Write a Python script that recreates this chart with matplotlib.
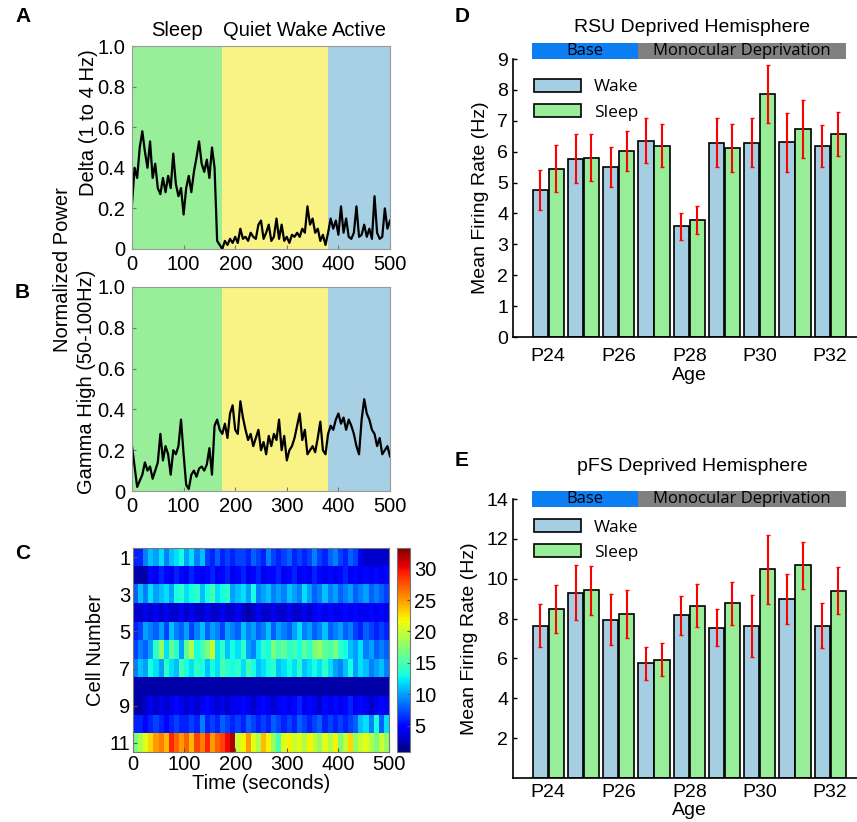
import matplotlib
matplotlib.use("Agg")
import matplotlib.pyplot as plt
import numpy as np

plt.rcParams['font.family'] = ['Liberation Sans', 'DejaVu Sans']

# ---- panel A/B: normalized power traces, sampled every 5 s ----
t = np.arange(0, 501, 5)
delta = [0.22, 0.40, 0.35, 0.50, 0.58, 0.48, 0.40, 0.53, 0.35, 0.42,
         0.30, 0.27, 0.35, 0.28, 0.36, 0.30, 0.47, 0.32, 0.26, 0.30,
         0.17, 0.30, 0.36, 0.28, 0.38, 0.45, 0.53, 0.42, 0.38, 0.44,
         0.35, 0.50, 0.40, 0.04, 0.02, 0.00, 0.04, 0.02, 0.05, 0.03,
         0.06, 0.03, 0.10, 0.05, 0.06, 0.04, 0.08, 0.06, 0.05, 0.12,
         0.14, 0.05, 0.08, 0.12, 0.04, 0.06, 0.15, 0.05, 0.12, 0.04,
         0.06, 0.03, 0.07, 0.06, 0.08, 0.06, 0.10, 0.08, 0.21, 0.12,
         0.15, 0.08, 0.10, 0.04, 0.07, 0.02, 0.08, 0.15, 0.10, 0.14,
         0.07, 0.21, 0.08, 0.15, 0.06, 0.05, 0.08, 0.21, 0.06, 0.07,
         0.12, 0.06, 0.10, 0.05, 0.26, 0.08, 0.05, 0.06, 0.20, 0.10,
         0.14]
gamma = [0.22, 0.12, 0.02, 0.05, 0.08, 0.14, 0.10, 0.12, 0.06, 0.10,
         0.14, 0.28, 0.15, 0.22, 0.18, 0.08, 0.20, 0.18, 0.22, 0.35,
         0.18, 0.03, 0.01, 0.08, 0.10, 0.07, 0.11, 0.12, 0.10, 0.13,
         0.21, 0.08, 0.32, 0.35, 0.30, 0.28, 0.33, 0.26, 0.38, 0.42,
         0.30, 0.28, 0.44, 0.36, 0.30, 0.25, 0.28, 0.22, 0.26, 0.30,
         0.20, 0.24, 0.18, 0.27, 0.22, 0.28, 0.25, 0.35, 0.20, 0.27,
         0.15, 0.20, 0.22, 0.26, 0.32, 0.38, 0.25, 0.30, 0.18, 0.20,
         0.22, 0.19, 0.26, 0.34, 0.20, 0.18, 0.28, 0.32, 0.30, 0.35,
         0.38, 0.33, 0.36, 0.30, 0.35, 0.32, 0.28, 0.22, 0.18, 0.35,
         0.45, 0.38, 0.35, 0.30, 0.28, 0.22, 0.26, 0.18, 0.20, 0.22,
         0.17]

state_names = ['Sleep', 'Quiet Wake', 'Active']
state_edges = [0, 175, 380, 500]
state_colors = ['#98ee99', '#f8f384', '#a8d0e4']

# ---- panel C: firing rate per cell, 10 s bins ----
cell_rates = [
    [6, 6, 9, 11, 10, 12, 9, 11, 12, 13, 10, 12, 9, 11, 7, 6, 8, 6, 7, 6, 7, 7, 6, 8, 7,
     6, 9, 7, 6, 7, 8, 6, 7, 6, 7, 9, 7, 6, 8, 9, 7, 6, 8, 7, 4, 3, 3, 3, 3, 3],
    [2, 2, 2, 5, 4, 6, 5, 4, 6, 5, 4, 6, 5, 4, 5, 6, 4, 5, 6, 4, 5, 6, 4, 5, 6,
     4, 5, 5, 6, 4, 5, 6, 4, 5, 4, 6, 5, 4, 5, 4, 5, 6, 4, 5, 4, 5, 4, 5, 4, 5],
    [8, 11, 9, 12, 10, 11, 12, 10, 13, 14, 12, 13, 14, 11, 13, 15, 12, 13, 14, 10, 11, 12, 10, 13, 9,
     10, 11, 9, 10, 9, 11, 10, 9, 12, 10, 8, 9, 11, 9, 10, 8, 9, 10, 8, 9, 10, 8, 9, 8, 7],
    [3, 3, 4, 3, 4, 3, 4, 3, 3, 4, 3, 4, 3, 3, 4, 3, 3, 4, 3, 3, 4, 3, 2, 3, 4,
     3, 3, 4, 3, 3, 4, 3, 3, 4, 3, 4, 5, 4, 5, 4, 4, 5, 4, 5, 4, 4, 5, 4, 5, 4],
    [6, 7, 10, 9, 8, 10, 7, 11, 9, 8, 10, 7, 9, 11, 8, 10, 9, 7, 10, 9, 8, 11, 9, 10, 8,
     9, 11, 8, 10, 9, 8, 10, 12, 9, 10, 8, 9, 11, 8, 9, 10, 8, 9, 7, 6, 8, 7, 6, 7, 6],
    [7, 9, 8, 10, 14, 18, 12, 16, 14, 10, 16, 19, 13, 15, 17, 20, 12, 14, 11, 13, 12, 14, 10, 9, 12,
     14, 13, 17, 15, 16, 14, 15, 13, 16, 14, 17, 18, 16, 15, 17, 14, 13, 11, 10, 12, 9, 10, 8, 9, 8],
    [9, 11, 10, 13, 12, 10, 14, 12, 11, 15, 13, 12, 14, 13, 11, 13, 12, 15, 14, 13, 14, 12, 15, 13, 11,
     12, 13, 14, 11, 12, 13, 12, 14, 11, 12, 13, 12, 14, 12, 10, 9, 11, 13, 10, 12, 11, 9, 10, 11, 9],
    [2, 2, 2, 2, 2, 2, 2, 2, 2, 2, 2, 2, 2, 2, 2, 2, 2, 2, 2, 2, 2, 2, 2, 2, 2,
     2, 2, 2, 2, 2, 2, 2, 2, 2, 2, 2, 2, 2, 2, 2, 2, 2, 2, 2, 2, 2, 2, 2, 2, 2],
    [2, 2, 3, 4, 3, 4, 3, 4, 5, 4, 3, 4, 3, 4, 5, 4, 3, 4, 3, 4, 4, 5, 4, 3, 4,
     5, 4, 3, 4, 5, 4, 5, 6, 4, 5, 4, 3, 5, 4, 5, 4, 5, 6, 4, 5, 4, 3, 4, 5, 4],
    [6, 6, 5, 6, 7, 6, 5, 6, 7, 6, 6, 7, 6, 9, 6, 7, 6, 8, 7, 6, 7, 6, 8, 7, 6,
     7, 6, 8, 7, 6, 7, 6, 8, 7, 6, 7, 8, 6, 7, 6, 7, 6, 7, 8, 11, 12, 9, 13, 8, 12],
    [17, 19, 21, 23, 25, 26, 24, 29, 27, 25, 27, 24, 28, 26, 29, 25, 27, 28, 30, 32, 20, 22, 25, 21, 19,
     24, 22, 18, 15, 21, 22, 20, 21, 19, 22, 20, 18, 21, 19, 22, 17, 20, 23, 18, 20, 21, 19, 17, 20, 18],
]

# ---- panels D/E: mean firing rate by age ----
ages = ['P24', 'P25', 'P26', 'P27', 'P28', 'P29', 'P30', 'P31', 'P32']
rsu_wake = [4.76, 5.77, 5.49, 6.36, 3.58, 6.29, 6.29, 6.30, 6.18]
rsu_wake_err = [0.65, 0.79, 0.65, 0.73, 0.45, 0.80, 0.79, 0.96, 0.67]
rsu_sleep = [5.45, 5.81, 6.02, 6.19, 3.78, 6.12, 7.86, 6.72, 6.57]
rsu_sleep_err = [0.76, 0.75, 0.64, 0.69, 0.46, 0.79, 0.94, 0.94, 0.72]
pfs_wake = [7.64, 9.30, 7.94, 5.75, 8.16, 7.54, 7.64, 8.98, 7.64]
pfs_wake_err = [1.07, 1.38, 1.29, 0.83, 0.98, 0.94, 1.55, 1.24, 1.12]
pfs_sleep = [8.49, 9.43, 8.22, 5.93, 8.64, 8.76, 10.47, 10.67, 9.40]
pfs_sleep_err = [1.20, 1.23, 1.20, 0.83, 1.07, 1.09, 1.72, 1.18, 1.17]
n_base_days = 3

W, H = 857, 822
FS = 14.5
fig = plt.figure(figsize=(W / 100, H / 100), dpi=100)

def px_axes(left, top, right, bottom):
    return fig.add_axes([left / W, 1 - bottom / H, (right - left) / W, (bottom - top) / H])

def trace_panel(ax, y):
    for i in range(3):
        ax.axvspan(state_edges[i], state_edges[i + 1], color=state_colors[i], lw=0)
    ax.plot(t, y, color='black', lw=1.6)
    ax.set_xlim(0, 500)
    ax.set_ylim(0, 1)
    ax.set_yticks([0, 0.2, 0.4, 0.6, 0.8, 1.0])
    ax.set_yticklabels(['0', '0.2', '0.4', '0.6', '0.8', '1.0'])
    ax.set_xticks([0, 100, 200, 300, 400, 500])
    ax.tick_params(direction='in', length=3, labelsize=FS, color='#777777')
    ax.tick_params(axis='y', pad=5)
    ax.tick_params(axis='x', pad=4)
    for s in ax.spines.values():
        s.set_color('#999999')

axA = px_axes(132, 46, 390, 249)
trace_panel(axA, delta)
for i, name in enumerate(state_names):
    axA.text((state_edges[i] + state_edges[i + 1]) / 2, 1.03, name,
             transform=axA.get_xaxis_transform(), ha='center', va='bottom', fontsize=FS)
fig.text(89 / W, 1 - 123 / H, 'Delta (1 to 4 Hz)', rotation=90, ha='center', va='center', fontsize=FS)

axB = px_axes(132, 287, 390, 491)
trace_panel(axB, gamma)
fig.text(87 / W, 1 - 382 / H, 'Gamma High (50-100Hz)', rotation=90, ha='center', va='center', fontsize=FS)
fig.text(63 / W, 1 - 270 / H, 'Normalized Power', rotation=90, ha='center', va='center', fontsize=FS)

axC = px_axes(133, 548, 389, 752)
im = axC.imshow(np.array(cell_rates), cmap='jet', vmin=0.8, vmax=33.3, aspect='auto',
                interpolation='nearest', extent=[0, 500, 11.5, 0.5])
axC.set_yticks([1, 3, 5, 7, 9, 11])
axC.set_xticks([0, 100, 200, 300, 400, 500])
axC.tick_params(direction='in', length=3, labelsize=FS, color='#555555', pad=2)
axC.set_xlabel('Time (seconds)', fontsize=FS, labelpad=0)
axC.set_ylabel('Cell Number', fontsize=FS, labelpad=3)
for s in axC.spines.values():
    s.set_color('#777777')
cax = px_axes(397, 548, 410, 752)
cb = fig.colorbar(im, cax=cax, ticks=[5, 10, 15, 20, 25, 30])
cb.ax.tick_params(direction='in', length=2, labelsize=FS, color='#555555', pad=3)
cb.outline.set_edgecolor('#777777')

def bar_panel(ax, wake, wake_err, sleep, sleep_err, ymax, yticks, band, xpad):
    x = np.arange(1, len(ages) + 1)
    w, off = 0.43, 0.225
    ax.bar(x - off, wake, w, color='#a6cee3', edgecolor='black', lw=1.2, label='Wake')
    ax.bar(x + off, sleep, w, color='#98ee98', edgecolor='black', lw=1.2, label='Sleep')
    ax.errorbar(x - off, wake, yerr=wake_err, fmt='none', ecolor='red', elinewidth=1.5, capsize=1.5)
    ax.errorbar(x + off, sleep, yerr=sleep_err, fmt='none', ecolor='red', elinewidth=1.5, capsize=1.5)
    ax.set_xlim(0, 10)
    ax.set_ylim(0, ymax)
    ax.set_yticks(yticks)
    ax.set_xticks(x[::2])
    ax.set_xticklabels(ages[::2])
    ax.tick_params(direction='in', length=3, labelsize=14, width=1)
    ax.tick_params(axis='x', length=0, pad=xpad)
    ax.spines['top'].set_visible(False)
    ax.spines['right'].set_visible(False)
    ax.spines['left'].set_linewidth(1.2)
    ax.spines['bottom'].set_linewidth(1.2)
    ax.set_ylabel('Mean Firing Rate (Hz)', fontsize=14, labelpad=6)
    ax.set_xlabel('Age', fontsize=14, labelpad=1)
    # Base / Monocular Deprivation header
    split = n_base_days + 0.55
    lo, hi = band
    ax.add_patch(plt.Rectangle((0.55, lo), split - 0.55, hi - lo, color='#0a7ef2', clip_on=False, lw=0))
    ax.add_patch(plt.Rectangle((split, lo), 9.45 - split, hi - lo, color='#808080', clip_on=False, lw=0))
    ax.text((0.55 + split) / 2, (lo + hi) / 2, 'Base', ha='center', va='center', fontsize=12,
            family=['Open Sans', 'DejaVu Sans'], clip_on=False)
    ax.text((split + 9.45) / 2, (lo + hi) / 2, 'Monocular Deprivation', ha='center', va='center',
            fontsize=12, family=['Open Sans', 'DejaVu Sans'], clip_on=False)
    ax.legend(loc='upper left', bbox_to_anchor=(0.035, 0.96), frameon=False, borderpad=0,
              handlelength=2.7, handleheight=0.8, handletextpad=0.75, labelspacing=0.5,
              prop={'family': ['Open Sans', 'DejaVu Sans'], 'size': 12.5})

axD = fig.add_axes([513 / W, 1 - 337 / H, 352.5 / W, 278 / H])
bar_panel(axD, rsu_wake, rsu_wake_err, rsu_sleep, rsu_sleep_err, 9, range(0, 10), (9.0, 9.52), 8)
fig.text(692 / W, 1 - 27 / H, 'RSU Deprived Hemisphere', ha='center', va='center', fontsize=14)

axE = fig.add_axes([513 / W, 1 - 778 / H, 352.5 / W, 279 / H])
bar_panel(axE, pfs_wake, pfs_wake_err, pfs_sleep, pfs_sleep_err, 14, range(2, 15, 2), (13.6, 14.4), 4)
fig.text(692 / W, 1 - 466 / H, 'pFS Deprived Hemisphere', ha='center', va='center', fontsize=14)

for letter, (lx, ly) in zip('ABCDE', [(15, 17), (15, 292), (15, 553), (455, 17), (455, 460)]):
    fig.text(lx / W, 1 - ly / H, letter, fontsize=15, fontweight='bold', ha='left', va='center')

fig.savefig('out.png', dpi=100)
